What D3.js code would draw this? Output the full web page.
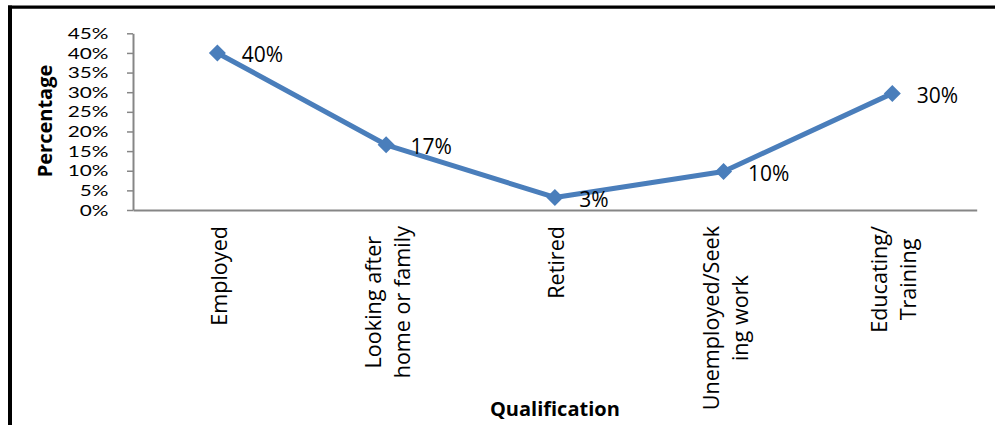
<!DOCTYPE html>
<html>
<head>
<meta charset="utf-8">
<script src="https://cdn.jsdelivr.net/npm/d3@7/dist/d3.min.js"></script>
<style>
  html, body { margin: 0; padding: 0; background: #fff; }
  svg { display: block; }
</style>
</head>
<body>
<svg id="chart" width="995" height="425"></svg>
<script>
// ---- data ----
const categories = ["Employed", "Looking after\nhome or family", "Retired", "Unemployed/Seek\ning work", "Educating/\nTraining"];
const values = [0.40, 0.166, 0.032, 0.098, 0.297];
const yTicks = [0, 0.05, 0.10, 0.15, 0.20, 0.25, 0.30, 0.35, 0.40, 0.45];
const yTitle = "Percentage";
const xTitle = "Qualification";

// ---- layout ----
const W = 995, H = 425;
const plot = { left: 133, right: 976.7, top: 33.3, bottom: 210 };
const FONT = "'Open Sans', 'Noto Sans', sans-serif";
const TICKFONT = "Lato, 'Open Sans', sans-serif";
const BLUE = "#4A7EBB";
const AXIS = "#868686";

const svg = d3.select("#chart");
svg.append("rect").attr("width", W).attr("height", H).attr("fill", "#fff");

// frame lines (top and left)
svg.append("line").attr("x1", 8).attr("x2", W).attr("y1", 7.2).attr("y2", 7.2)
  .attr("stroke", "#000").attr("stroke-width", 3.2);
svg.append("line").attr("x1", 10).attr("x2", 10).attr("y1", 5.6).attr("y2", H)
  .attr("stroke", "#000").attr("stroke-width", 4);

const x = d3.scalePoint().domain(categories).range([plot.left, plot.right]).padding(0.5);
const y = d3.scaleLinear().domain([0, 0.45]).range([plot.bottom, plot.top]);

// y axis
const yAxis = svg.append("g").attr("transform", `translate(${plot.left},0)`)
  .call(d3.axisLeft(y).tickValues(yTicks).tickFormat(d3.format(".0%")).tickSize(6).tickSizeOuter(0).tickPadding(18.5));
yAxis.select(".domain").attr("stroke", AXIS).attr("stroke-width", 2);
yAxis.selectAll(".tick line").attr("stroke", AXIS).attr("stroke-width", 1.5);
yAxis.selectAll(".tick text")
  .attr("font-family", TICKFONT).attr("font-size", 16).attr("fill", "#000")
  .each(function () {
    const len = this.getComputedTextLength();
    d3.select(this).attr("textLength", len * 1.3).attr("lengthAdjust", "spacingAndGlyphs");
  });

// x axis
const xAxis = svg.append("g").attr("transform", `translate(0,${plot.bottom})`)
  .call(d3.axisBottom(x).tickSize(0).tickSizeOuter(0).tickFormat(""));
xAxis.select(".domain").attr("stroke", AXIS).attr("stroke-width", 2);

// category labels (rotated, multi-line)
const labelTop = 226, lineGap = 29;
categories.forEach(cat => {
  const lines = cat.split("\n");
  const g = svg.append("g").attr("transform", `translate(${x(cat)},${labelTop}) rotate(-90)`);
  const texts = lines.map((ln, i) => g.append("text")
    .attr("font-family", FONT).attr("font-size", 21.6).attr("fill", "#000")
    .attr("text-anchor", "middle").attr("dominant-baseline", "central")
    .attr("y", (i - (lines.length - 1) / 2) * lineGap + 1)
    .text(ln));
  const maxLen = d3.max(texts, t => t.node().getComputedTextLength());
  texts.forEach(t => t.attr("x", -maxLen / 2));
});

// line
const line = d3.line().x((d, i) => x(categories[i])).y(d => y(d));
svg.append("path").datum(values).attr("d", line)
  .attr("fill", "none").attr("stroke", BLUE).attr("stroke-width", 5).attr("stroke-linejoin", "round");

// markers
const r = 8.5;
svg.selectAll(".mk").data(values).enter().append("path")
  .attr("class", "mk")
  .attr("transform", (d, i) => `translate(${x(categories[i])},${y(d)})`)
  .attr("d", `M0,${-r}L${r},0L0,${r}L${-r},0Z`)
  .attr("fill", BLUE);

// data labels
svg.selectAll(".dl").data(values).enter().append("text")
  .attr("class", "dl")
  .attr("x", (d, i) => x(categories[i]) + 24.5)
  .attr("y", d => y(d) + 1.5)
  .attr("dominant-baseline", "central")
  .attr("font-family", FONT).attr("font-size", 21).attr("fill", "#000")
  .text(d => d3.format(".0%")(d));

// axis titles
svg.append("text")
  .attr("transform", `translate(44,121) rotate(-90)`)
  .attr("text-anchor", "middle").attr("dominant-baseline", "central")
  .attr("font-family", FONT).attr("font-size", 20).attr("font-weight", "bold").attr("fill", "#000")
  .text(yTitle);
svg.append("text")
  .attr("x", (plot.left + plot.right) / 2).attr("y", 416)
  .attr("text-anchor", "middle")
  .attr("font-family", FONT).attr("font-size", 20).attr("font-weight", "bold").attr("fill", "#000")
  .text(xTitle);
</script>
</body>
</html>
